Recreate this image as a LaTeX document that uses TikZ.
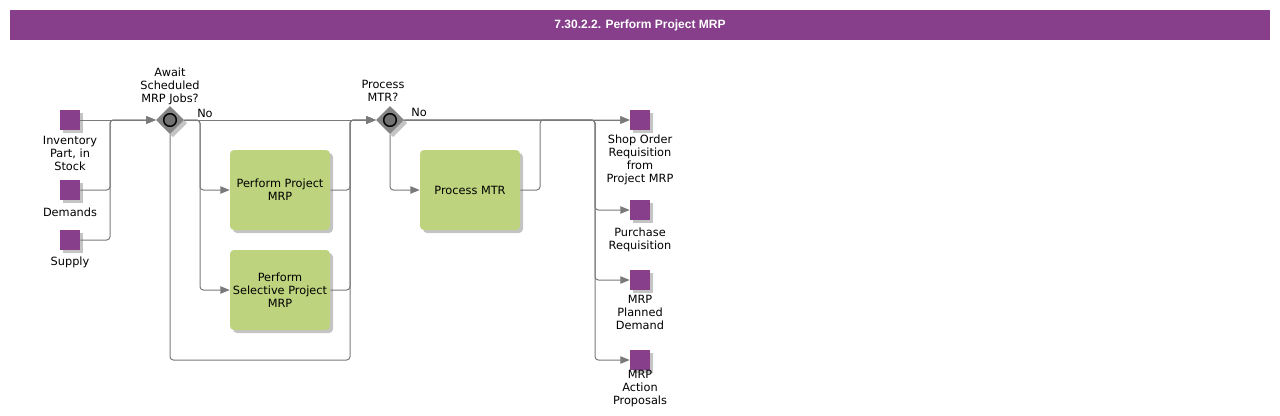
\documentclass[tikz,border=0pt]{standalone}
\usepackage{fontspec}
\setmainfont{DejaVu Sans}
\newfontfamily\titlefont{Liberation Sans}
\usetikzlibrary{shapes.geometric,arrows.meta}
\definecolor{purp}{HTML}{873F8C}
\definecolor{taskgreen}{HTML}{BDD37D}
\definecolor{conn}{HTML}{7A7A7A}
\definecolor{shad}{HTML}{C4C4C4}
\definecolor{gwfill}{HTML}{858585}
\begin{document}
\begin{tikzpicture}[x=0.75pt,y=-0.75pt,
  every node/.style={font=\fontsize{8.5}{9.75}\selectfont},
  dataobj/.style={rectangle,fill=purp,minimum size=15pt,inner sep=0pt},
  taskbox/.style={rectangle,rounded corners=3pt,fill=taskgreen,minimum width=75pt,minimum height=60pt,inner sep=1pt,align=center},
  gw/.style={diamond,aspect=1,fill=gwfill,minimum width=21pt,minimum height=21pt,inner sep=0pt},
  lbl/.style={align=center,inner sep=0pt},
  conn/.style={draw=conn,line width=0.75pt,rounded corners=2.5pt},
  arr/.style={conn,-{Triangle[length=7pt,width=5.5pt]}}
]
\useasboundingbox (0,0) rectangle (1280,415);
% title
\fill[purp] (10,10) rectangle (1270,40);
\node[text=white,font=\titlefont\bfseries\fontsize{9}{11}\selectfont] (title) at (640,25) {7.30.2.2. Perform Project MRP};
% shadows
\foreach \x/\y in {70/120,70/190,70/240,640/120,640/210,640/280,640/360}{
  \fill[shad] (\x-10+3,\y-10+3) rectangle (\x+10+3,\y+10+3);
}
\foreach \x/\y in {280/190,280/290,470/190}{
  \fill[shad,rounded corners=3pt] (\x-50+3,\y-40+3) rectangle (\x+50+3,\y+40+3);
}
\foreach \x/\y in {170/120,390/120}{
  \fill[shad] (\x+3,\y-14+3) -- (\x+14+3,\y+3) -- (\x+3,\y+14+3) -- (\x-14+3,\y+3) -- cycle;
}
% input data objects
\node[dataobj] (inv) at (70,120) {};
\node[dataobj] (dem) at (70,190) {};
\node[dataobj] (sup) at (70,240) {};
\node[lbl] (invl) at (70,153) {Inventory\\Part, in\\Stock};
\node[lbl] (deml) at (70,212) {Demands};
\node[lbl] (supl) at (70,262) {Supply};
% gateways
\node[gw] (g1) at (170,120) {};
\node[circle,draw=black,line width=1.1pt,fill=gwfill!85!black,minimum size=9.5pt,inner sep=0pt] (g1c) at (170,120) {};
\node[lbl] (g1l) at (170,86) {Await\\Scheduled\\MRP Jobs?};
\node[lbl,anchor=west] (g1no) at (197,113) {No};
\node[gw] (g2) at (390,120) {};
\node[circle,draw=black,line width=1.1pt,fill=gwfill!85!black,minimum size=9.5pt,inner sep=0pt] (g2c) at (390,120) {};
\node[lbl] (g2l) at (383,90.5) {Process\\MTR?};
\node[lbl,anchor=west] (g2no) at (411,112) {No};
% tasks
\node[taskbox] (t1) at (280,190) {Perform Project\\MRP};
\node[taskbox] (t2) at (280,290) {Perform\\Selective Project\\MRP};
\node[taskbox] (t3) at (470,190) {Process MTR};
% outputs
\node[dataobj] (o1) at (640,120) {};
\node[dataobj] (o2) at (640,210) {};
\node[dataobj] (o3) at (640,280) {};
\node[dataobj] (o4) at (640,360) {};
\node[lbl] (o1l) at (640,160) {Shop Order\\Requisition\\from\\Project MRP};
\node[lbl] (o2l) at (640,239.5) {Purchase\\Requisition};
\node[lbl] (o3l) at (640,312.5) {MRP\\Planned\\Demand};
\node[lbl] (o4l) at (640,389) {MRP\\Action\\Proposals};
% connectors
\draw[arr] (inv.east) -- (g1.west);
\draw[arr] (dem.east) -- (110,190) -- (110,120) -- (g1.west);
\draw[arr] (sup.east) -- (110,240) -- (110,120) -- (g1.west);
\draw[arr] (g1.east) -- (g2.west);
\draw[arr] (g1.east) -- (200,120) -- (200,190) -- (t1.west);
\draw[arr] (g1.east) -- (200,120) -- (200,290) -- (t2.west);
\draw[arr] (g1.south) -- (170,360) -- (350,360) -- (350,120) -- (g2.west);
\draw[arr] (t1.east) -- (350,190) -- (350,120) -- (g2.west);
\draw[arr] (t2.east) -- (350,290) -- (350,120) -- (g2.west);
\draw[arr] (g2.east) -- (o1.west);
\draw[arr] (g2.south) -- (390,190) -- (t3.west);
\draw[arr] (t3.east) -- (540,190) -- (540,120) -- (o1.west);
\draw[arr] (g2.east) -- (595,120) -- (595,210) -- (o2.west);
\draw[arr] (g2.east) -- (595,120) -- (595,280) -- (o3.west);
\draw[arr] (g2.east) -- (595,120) -- (595,360) -- (o4.west);
\end{tikzpicture}
\end{document}
